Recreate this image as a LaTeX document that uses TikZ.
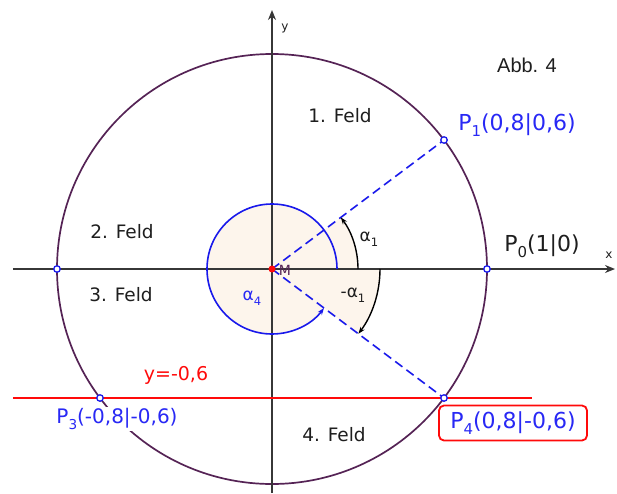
\documentclass[tikz,border=0pt]{standalone}
\usepackage{fontspec}
\setmainfont{DejaVu Sans}
\newfontfamily\arialfont{Liberation Sans}
\usepackage{graphicx}
\usetikzlibrary{arrows.meta}
\definecolor{circcol}{RGB}{85,35,85}
\definecolor{axiscol}{RGB}{55,55,55}
\definecolor{myblue}{RGB}{25,25,235}
\definecolor{txtblue}{RGB}{40,40,245}
\definecolor{myred}{RGB}{255,10,10}
\definecolor{beige}{RGB}{253,245,236}
\definecolor{txtdark}{RGB}{30,30,30}
\newcommand\lsub[1]{\raisebox{-0.28em}{\scalebox{0.68}{#1}}}
\tikzset{
  axisline/.style={draw=axiscol, line width=1.6pt, -{Stealth[length=10pt,width=8pt]}},
  circline/.style={draw=circcol, line width=1.7pt},
  dashline/.style={draw=myblue, line width=1.6pt, dash pattern=on 9pt off 5pt},
  anglearc/.style={draw=black, line width=1.4pt, -{Stealth[length=7pt,width=5pt]}},
  pointmark/.style={circle, draw=myblue, fill=white, line width=1.3pt, inner sep=0pt, minimum size=6.5pt},
  feldlabel/.style={text=txtdark, font=\fontsize{18.5}{22}\selectfont, inner sep=0pt},
  ptlabel/.style={text=txtblue, font=\fontsize{22}{26}\selectfont, inner sep=1pt},
}
\begin{document}
\begin{tikzpicture}[x=1pt,y=1pt]
\useasboundingbox (-272,-224) rectangle (345,269);
\coordinate (M) at (0,0);
\coordinate (P0) at (215,0);
\coordinate (P1) at (172,129);
\coordinate (Q) at (-215,0);
\coordinate (P3) at (-172,-129);
\coordinate (P4) at (172,-129);
\coordinate (xl) at (-259,0);
\coordinate (xr) at (343,0);
\coordinate (yb) at (0,-224);
\coordinate (yt) at (0,259);
\coordinate (rl) at (-259,-129);
\coordinate (rr) at (260,-129);
% fills
\fill[beige] (M) -- (65,0) arc[start angle=0,end angle=323.13,radius=65] -- cycle;
\fill[beige] (M) -- (86,0) arc[start angle=0,end angle=36.87,radius=86] -- cycle;
\fill[beige] (M) -- (108,0) arc[start angle=0,end angle=-36.87,radius=108] -- cycle;
% circle
\draw[circline] (M) circle[radius=215];
% axes
\draw[axisline] (xl) -- (xr);
\draw[axisline] (yb) -- (yt);
% red line
\draw[myred, line width=2.3pt] (rl) -- (rr);
% dashed radii
\draw[dashline] (M) -- (P1);
\draw[dashline] (M) -- (P4);
% angle arcs
\draw[anglearc] (86,0) arc[start angle=0,end angle=36.87,radius=86];
\draw[anglearc] (108,0) arc[start angle=0,end angle=-36.87,radius=108];
\draw[draw=myblue, line width=1.6pt, -{Stealth[length=7pt,width=5pt]}] (65,0) arc[start angle=0,end angle=323.13,radius=65];
% labels
\node[ptlabel, fill=white, inner sep=1pt, font=\fontsize{20}{24}\selectfont] (l3) at (-155,-150) {P\lsub{3}(-0,8|-0,6)};
\node[ptlabel, draw=myred, fill=white, rounded corners=5pt, line width=1.8pt, minimum width=148pt, minimum height=35pt] (l4) at (241,-154) {P\lsub{4}(0,8|-0,6)};
% points
\node[pointmark] (p0) at (P0) {};
\node[pointmark] (p1) at (P1) {};
\node[pointmark] (q) at (Q) {};
\node[pointmark] (p3) at (P3) {};
\node[pointmark] (p4) at (P4) {};
\node[circle, fill=myred, inner sep=0pt, minimum size=7pt] (m) at (M) {};
\node[text=circcol, font=\fontsize{14}{16}\selectfont, inner sep=0pt] (ml) at (13,-1) {M};
\node[ptlabel] (l1) at (245,144) {P\lsub{1}(0,8|0,6)};
\node[text=txtdark, font=\fontsize{22}{26}\selectfont, inner sep=0pt] (l0) at (270,23) {P\lsub{0}(1|0)};
\node[feldlabel] (f1) at (68,153) {1. Feld};
\node[feldlabel] (f2) at (-150,37) {2. Feld};
\node[feldlabel] (f3) at (-151,-26) {3. Feld};
\node[feldlabel] (f4) at (62,-166) {4. Feld};
\node[text=txtdark, font=\arialfont\fontsize{20}{24}\selectfont, inner sep=0pt] (abb) at (255,204) {Abb. 4};
\node[text=myred, font=\fontsize{19}{22}\selectfont, inner sep=0pt] (yl) at (-96,-106) {y=-0,6};
\node[text=txtdark, font=\fontsize{12}{14}\selectfont, inner sep=0pt] (xlab) at (337,14) {x};
\node[text=txtdark, font=\fontsize{12}{14}\selectfont, inner sep=0pt] (ylab) at (13,241) {y};
\node[text=txtdark, font=\fontsize{17}{19}\selectfont, inner sep=0pt] (a1) at (97,30) {α\lsub{1}};
\node[text=txtdark, font=\fontsize{17}{19}\selectfont, inner sep=0pt] (ma1) at (81,-26) {-α\lsub{1}};
\node[text=txtblue, font=\fontsize{17}{19}\selectfont, inner sep=0pt] (a4) at (-20,-29) {α\lsub{4}};
\end{tikzpicture}
\end{document}
